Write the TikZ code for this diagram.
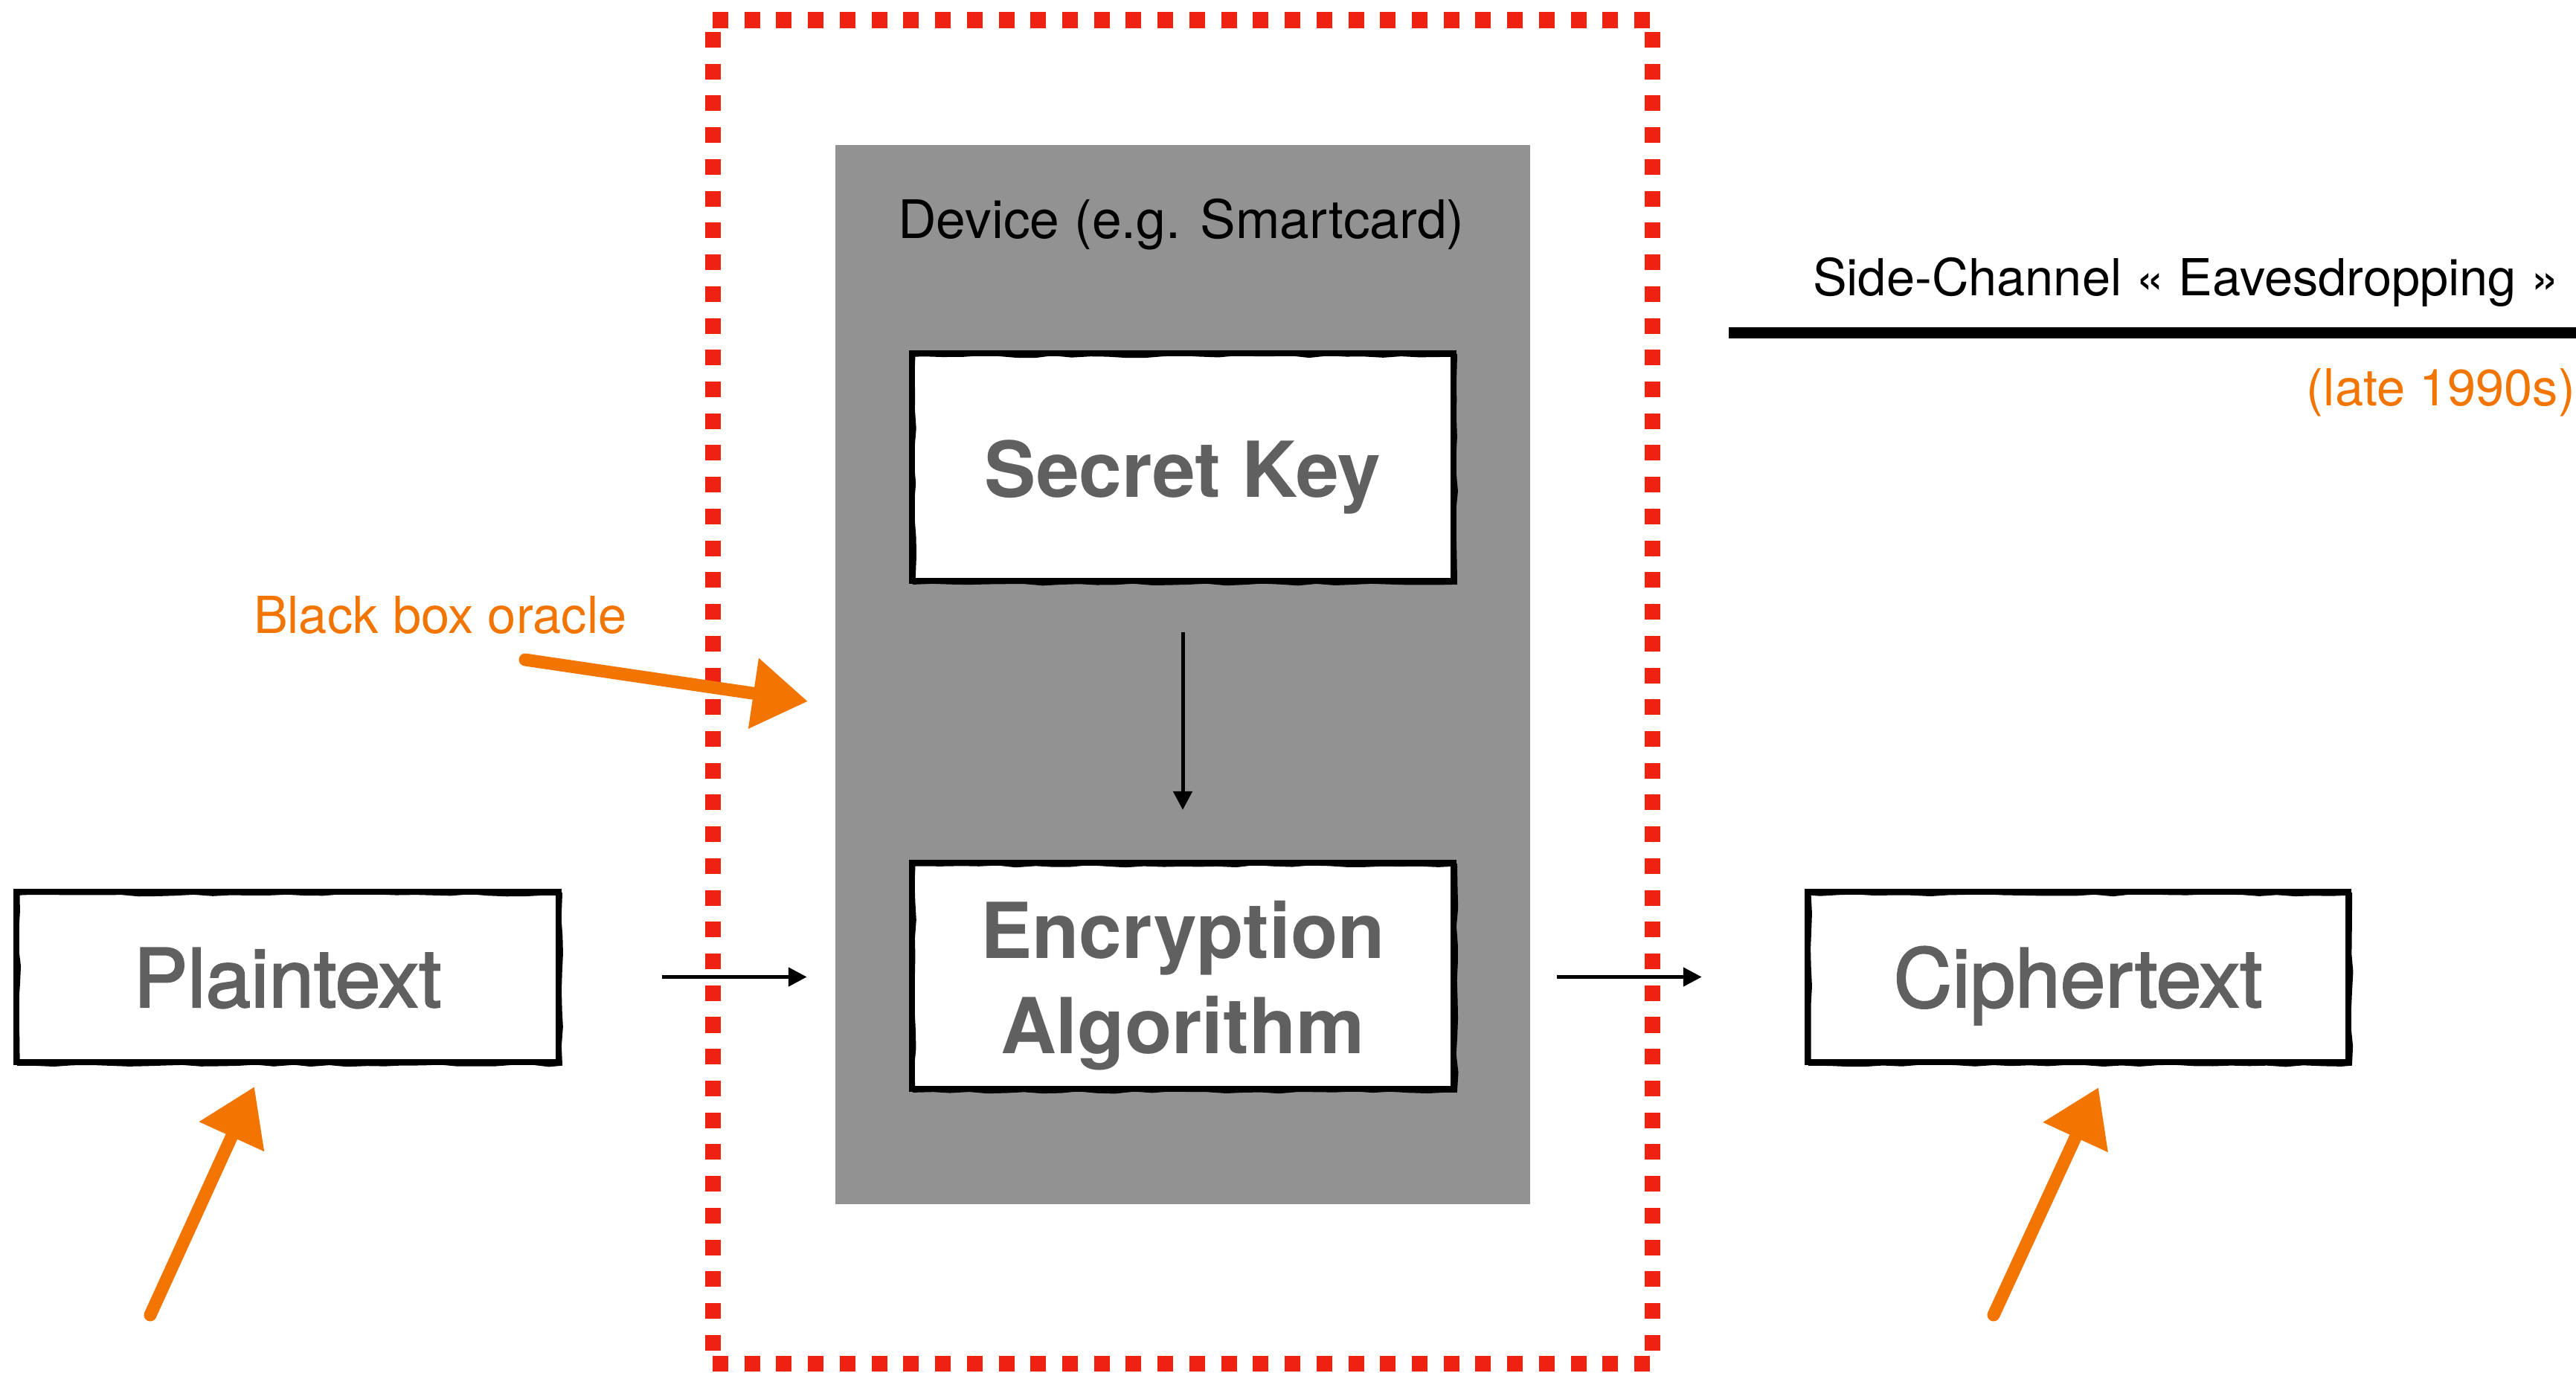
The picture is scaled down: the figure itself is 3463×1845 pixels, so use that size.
\documentclass[tikz,border=0pt]{standalone}
\usepackage{fontspec}
\setmainfont{TeX Gyre Heros}
\newfontfamily\labelfont[FakeBold=2]{TeX Gyre Heros}
\usetikzlibrary{arrows.meta,decorations.pathmorphing,calc}
\definecolor{framered}{RGB}{239,34,17}
\definecolor{chalk}{RGB}{241,117,0}
\definecolor{devgray}{RGB}{146,146,146}
\definecolor{boxtext}{RGB}{96,96,96}
\begin{document}
\pgfmathsetseed{4242}
\begin{tikzpicture}[x=0.01cm,y=-0.01cm,
  sketchbox/.style={rectangle, draw=black, line width=0.075cm, fill=white,
    inner sep=0pt, outer sep=0pt, text=boxtext,
    postaction={draw=black, line width=0.035cm, decorate,
      decoration={random steps,segment length=7pt,amplitude=0.45pt},
      transform canvas={xshift=0.03cm,yshift=-0.03cm}}},
  bigtext/.style={font=\labelfont\fontsize{31}{37}\selectfont, text height=23pt, text depth=0pt},
  boldtext/.style={font=\bfseries\fontsize{29.5}{36.4}\selectfont, text height=23pt, text depth=0pt},
  flow/.style={draw=black, line width=0.05cm, -{Triangle[length=7.1pt,width=7.1pt]}},
  chalkarrow/.style={draw=chalk, line width=0.17cm, line cap=round,
    -{Triangle[length=21pt,width=26pt]}},
  framedash/.style={draw=framered, line width=0.21cm, dash pattern=on 0.21cm off 0.217cm},
  note/.style={inner sep=0pt, outer sep=0pt, font=\fontsize{19.5}{23}\selectfont}
]
\useasboundingbox (0,0) rectangle (3463,1845);

% red dashed frame around the device
\draw[framedash] (958,27) -- (2221,27);
\draw[framedash] (958,1833) -- (2221,1833);
\draw[framedash] (958,43) -- (958,1816);
\draw[framedash] (2221,43) -- (2221,1816);

% the device
\node[rectangle, fill=devgray, draw=none, minimum width=9.34cm, minimum height=14.24cm,
      inner sep=0pt, outer sep=0pt] (device) at (1590,907) {};
\node[note, anchor=base, font=\fontsize{20.3}{24}\selectfont] (devlabel) at (1588,320)
  {Device (e.g. Smartcard)};

% boxes
\node[sketchbox, boldtext, minimum width=7.28cm, minimum height=3.06cm] (key) at (1590,628)
  {Secret Key};
\node[sketchbox, font=\bfseries\fontsize{29.5}{36.4}\selectfont, text height=23pt, text depth=36.4pt,
      minimum width=7.28cm, minimum height=3.04cm] (enc) at (1590,1312)
  {\begin{tabular}[t]{@{}c@{}}Encryption\\Algorithm\end{tabular}};
\node[sketchbox, bigtext, minimum width=7.29cm, minimum height=2.29cm] (plain) at (386.5,1313.5)
  {Plaintext};
\node[sketchbox, bigtext, minimum width=7.27cm, minimum height=2.29cm] (cipher) at (2793.5,1313.5)
  {Ciphertext};

% data flow
\draw[flow, shorten <=0.69cm, shorten >=0.71cm] (key.south) -- (enc.north);
\draw[flow, shorten <=1.39cm, shorten >=0.38cm] (plain.east) -- (plain.east -| device.west);
\draw[flow, shorten <=0.36cm, shorten >=1.42cm] (device.east |- cipher.west) -- (cipher.west);

% side channel heading
\node[note, anchor=base west] (sidech) at (2437,397) {Side-Channel « Eavesdropping »};
\draw[line width=0.15cm] (2324,447) -- (3470,447);
\node[note, anchor=base east, text=chalk] (era) at (3462,545) {(late 1990s)};

% black box oracle annotation
\node[note, anchor=base west, text=chalk] (bblabel) at (341,851) {Black box oracle};
\coordinate (bbtail) at (706,887);
\coordinate (bbtip) at (1086,943);
\draw[chalkarrow] (bbtail) -- (bbtip);

% chalk pointers to plaintext and ciphertext
\coordinate (pttail) at (202,1768);
\coordinate (pttip) at (342,1461);
\draw[chalkarrow] (pttail) -- (pttip);
\coordinate (cttail) at (2680,1768);
\coordinate (cttip) at (2821,1462);
\draw[chalkarrow] (cttail) -- (cttip);
\end{tikzpicture}
\end{document}
